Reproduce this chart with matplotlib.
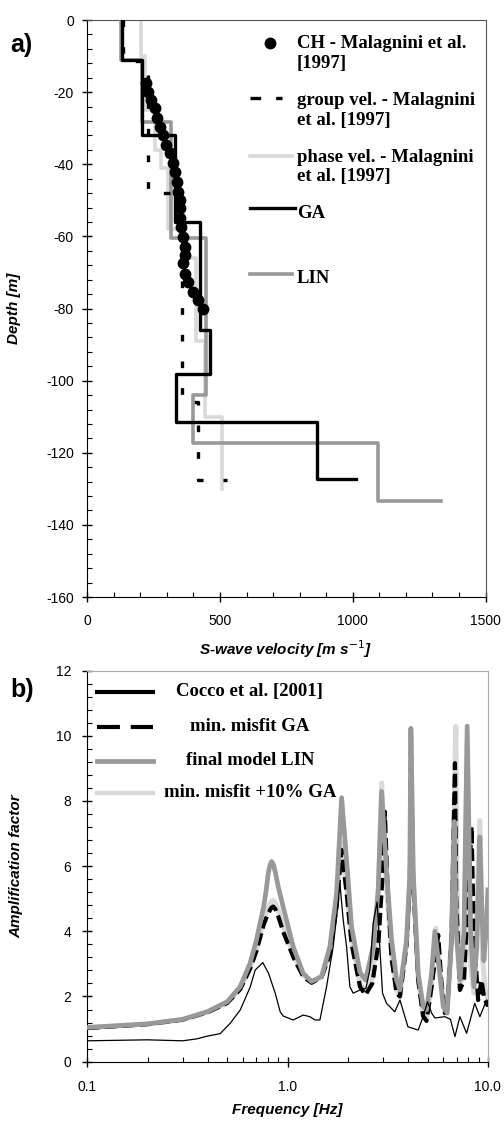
import matplotlib
matplotlib.use("Agg")
import matplotlib.pyplot as plt
import numpy as np
from matplotlib.ticker import MultipleLocator

plt.rcParams["axes.unicode_minus"] = False
plt.rcParams["font.family"] = ["Liberation Sans", "DejaVu Sans"]

# ---- panel a): S-wave velocity profiles -------------------------------
ch_depth = [17.4, 19.9, 22.2, 24.5, 27.3, 29.6, 32.0, 34.7, 37.0, 39.7, 42.1,
            44.8, 47.6, 49.9, 52.2, 55.0, 57.3, 60.1, 62.9, 65.2, 67.5, 70.3,
            72.6, 75.4, 77.7, 80.0]
ch_vel = [223, 230, 242, 255, 264, 274, 285, 296, 311, 324, 330,
          337, 343, 349, 349, 349, 355, 361, 368, 368, 361, 368,
          380, 399, 418, 437]

# layer boundaries (m) and layer velocities (m/s); last value = half-space
group_edges = [0, 11.5, 48, 106, 127.5]
group_vel = [136, 230, 358, 418, 525]

phase_edges = [0, 10, 25, 36, 41, 58, 66, 89, 110, 130]
phase_vel = [202, 217, 255, 278, 305, 360, 410, 443, 506]

ga_edges = [0, 11.1, 31.9, 55.9, 86, 98.2, 111.4, 127.4]
ga_vel = [130, 205, 330, 424, 462, 336, 866, 1012]

lin_edges = [0, 11.1, 28.2, 60.5, 104, 117.2, 133.4]
lin_vel = [126, 205, 314, 447, 400, 1093, 1332]

# ---- panel b): amplification functions --------------------------------
cocco_f = [0.1, 0.2, 0.3, 0.353, 0.395, 0.461, 0.518, 0.581, 0.652, 0.689,
           0.753, 0.804, 0.868, 0.919, 0.951, 1.067, 1.197, 1.293, 1.369,
           1.451, 1.566, 1.69, 1.789, 1.825, 1.896, 1.971, 2.047, 2.127,
           2.297, 2.46, 2.576, 2.676, 2.80, 2.98, 3.12, 3.43, 3.64, 3.99,
           4.49, 4.75, 5.0, 5.24, 5.44, 6.10, 6.5, 6.85, 7.25, 7.83, 8.6,
           9.12, 9.85, 10.0]
cocco_amp = [0.64, 0.67, 0.64, 0.70, 0.78, 0.86, 1.18, 1.59, 2.30, 2.81,
             3.04, 2.71, 2.10, 1.53, 1.40, 1.28, 1.43, 1.38, 1.28,
             1.28, 2.30, 3.53, 4.86, 5.48, 4.35, 3.53, 2.30, 2.10,
             2.20, 2.25, 2.81, 4.25, 4.90, 2.10, 1.79, 1.53, 1.89, 1.07,
             0.97, 1.38, 1.84, 1.49, 1.34, 1.38, 1.30, 0.77, 1.38, 0.87, 1.79,
             1.38, 1.89, 1.70]

ga_f = [0.1, 0.2, 0.3, 0.4, 0.5, 0.58, 0.65, 0.70, 0.76, 0.80, 0.83, 0.848,
        0.87, 0.9, 0.95, 1.07, 1.2, 1.32, 1.48, 1.63, 1.76, 1.86, 1.97, 2.09,
        2.3, 2.45, 2.65, 2.84, 3.0, 3.06, 3.15, 3.3, 3.5, 3.64, 3.93, 4.08,
        4.13, 4.24, 4.49, 4.75, 4.94, 5.24, 5.65, 5.85, 6.1, 6.26, 6.59, 6.85,
        6.95, 7.25, 7.6, 8.29, 8.5, 8.94, 9.3, 9.55, 10.0]
ga_amp = [1.03, 1.15, 1.29, 1.52, 1.80, 2.22, 2.85, 3.40, 4.20, 4.55, 4.72, 4.76,
          4.68, 4.45, 4.00, 3.20, 2.60, 2.42, 2.60, 3.30, 4.80, 6.50, 5.20, 3.60,
          2.30, 2.05, 2.40, 3.60, 6.00, 7.67, 5.50, 3.20, 2.10, 2.00, 3.60, 5.50,
          9.50, 5.50, 2.50, 1.40, 1.25, 2.30, 3.89, 2.50, 1.49, 1.60, 3.80, 9.16,
          5.00, 2.20, 2.50, 7.21, 4.00, 1.89, 2.50, 2.00, 1.70]

ga10_f = [0.1, 0.2, 0.3, 0.4, 0.5, 0.58, 0.65, 0.70, 0.76, 0.80, 0.83, 0.848,
          0.87, 0.9, 0.95, 1.07, 1.2, 1.32, 1.48, 1.63, 1.76, 1.86, 1.97, 2.09,
          2.3, 2.45, 2.65, 2.80, 2.95, 3.1, 3.3, 3.5, 3.64, 3.93, 4.08, 4.13,
          4.24, 4.49, 4.75, 4.94, 5.24, 5.5, 5.75, 6.1, 6.26, 6.59, 6.92, 7.0,
          7.25, 7.6, 7.88, 8.2, 8.51, 9.12, 9.4, 9.7, 10.0]
ga10_amp = [1.04, 1.15, 1.29, 1.52, 1.81, 2.24, 2.88, 3.45, 4.35, 4.75, 4.92, 4.95,
            4.88, 4.65, 4.15, 3.30, 2.65, 2.45, 2.62, 3.40, 4.95, 6.70, 5.40, 3.70,
            2.40, 2.15, 2.55, 4.00, 8.55, 5.60, 3.40, 2.20, 2.05, 3.70, 5.60, 10.0,
            5.60, 2.60, 1.50, 1.35, 2.40, 4.10, 2.60, 1.55, 1.65, 3.90, 10.28, 5.40,
            2.40, 2.60, 9.80, 3.00, 2.10, 7.40, 3.20, 2.20, 1.90]

lin_f = [0.1, 0.2, 0.3, 0.4, 0.5, 0.58, 0.65, 0.70, 0.76, 0.78, 0.80, 0.815,
         0.832, 0.85, 0.87, 0.9, 0.95, 1.067, 1.197, 1.318, 1.479, 1.627, 1.758,
         1.862, 1.971, 2.087, 2.297, 2.45, 2.676, 2.835, 2.948, 3.123, 3.306,
         3.502, 3.638, 3.929, 4.081, 4.128, 4.239, 4.489, 4.754, 4.944, 5.236,
         5.438, 5.76, 5.984, 6.263, 6.589, 6.79, 6.95, 7.249, 7.6, 7.883, 8.2,
         8.514, 8.8, 9.121, 9.35, 9.55, 9.85, 10.0]
lin_amp = [1.05, 1.16, 1.30, 1.54, 1.84, 2.30, 3.02, 3.74, 4.76, 5.20, 5.75, 6.00,
           6.14, 6.05, 5.80, 5.35, 4.76, 3.53, 2.71, 2.46, 2.61, 3.53, 5.17,
           8.10, 6.19, 4.14, 2.75, 2.50, 3.53, 5.27, 8.29, 5.78, 3.74,
           2.51, 2.20, 3.74, 5.78, 10.23, 5.78, 2.71, 1.69, 1.59, 2.71,
           4.00, 2.71, 1.69, 1.49, 3.74, 7.37, 4.00, 2.50, 4.00, 10.30, 4.00,
           2.30, 3.50, 6.90, 4.50, 3.10, 4.20, 5.27]

DARK = "#999999"
LIGHT = "#d9d9d9"
serif = {"family": ["Liberation Serif", "DejaVu Serif"], "weight": "bold",
         "size": 13.5}
label_font = {"weight": "bold", "style": "italic", "size": 11}


def profile(edges, vel):
    """Step profile: velocity vs. (negative) depth."""
    e = np.asarray(edges, float)
    v = np.asarray(vel, float)
    n = len(e) - 1
    x = np.repeat(v[:n], 2)
    y = np.column_stack([e[:-1], e[1:]]).ravel()
    if len(v) > n:  # half-space drawn as a horizontal segment
        x = np.append(x, v[n])
        y = np.append(y, e[-1])
    return x, -y


def style_axes(ax, edge_color):
    for side in ("top", "right"):
        ax.spines[side].set_color(edge_color)
    ax.tick_params(which="major", direction="inout", length=7, width=1,
                   labelsize=10, top=False, right=False)
    ax.tick_params(which="minor", direction="in", length=3.5, width=0.8,
                   top=False, right=False)


fig = plt.figure(figsize=(5.04, 11.25), dpi=100)

# ======================= panel a ========================================
ax1 = fig.add_axes([0.173, 0.4693, 0.7905, 0.5129])
x, y = profile(phase_edges, phase_vel)
ax1.plot(x, y, color=LIGHT, lw=2.6, zorder=2)
x, y = profile(lin_edges, lin_vel)
ax1.plot(x, y, color=DARK, lw=2.6, zorder=3)
x, y = profile(ga_edges, ga_vel)
ax1.plot(x, y, color="black", lw=2.4, zorder=4)
x, y = profile(group_edges, group_vel)
ax1.plot(x, y, color="black", lw=2.4, dashes=(2, 6), zorder=5)
ax1.plot(ch_vel, -np.asarray(ch_depth), "o", color="black", ms=7.5, zorder=6)

ax1.set_xlim(0, 1500)
ax1.set_ylim(-160, 0)
ax1.xaxis.set_major_locator(MultipleLocator(500))
ax1.xaxis.set_minor_locator(MultipleLocator(100))
ax1.yaxis.set_major_locator(MultipleLocator(20))
ax1.yaxis.set_minor_locator(MultipleLocator(4))
style_axes(ax1, "#555555")
ax1.tick_params(axis="x", which="major", pad=9)
ax1.tick_params(axis="y", which="major", pad=6)
ax1.set_xlabel("S-wave velocity [m s$^{-1}$]", fontdict=label_font)
ax1.xaxis.set_label_coords(0.498, -0.071)
ax1.set_ylabel("Depth [m]", fontdict=label_font)
ax1.yaxis.set_label_coords(-0.165, 0.5)

# hand-placed legend (axes fraction)
tr = ax1.transAxes
ax1.plot([0.458], [0.960], "o", color="black", ms=7.5, transform=tr,
         clip_on=False)
ax1.plot([0.408, 0.489], [0.864, 0.864], color="black", lw=2.4,
         dashes=(3.2, 4.5), transform=tr)
ax1.plot([0.408, 0.514], [0.764, 0.764], color=LIGHT, lw=2.6, transform=tr)
ax1.plot([0.408, 0.521], [0.674, 0.674], color="black", lw=2.4, transform=tr)
ax1.plot([0.408, 0.514], [0.560, 0.560], color=DARK, lw=2.6, transform=tr)
legend_a = [("CH - Malagnini et al.\n[1997]", 0.974),
            ("group vel. - Malagnini\net al. [1997]", 0.875),
            ("phase vel. - Malagnini\net al. [1997]", 0.777),
            ("GA", 0.680),
            ("LIN", 0.567)]
for txt, yy in legend_a:
    ax1.text(0.526, yy, txt, transform=tr, va="top", ha="left",
             linespacing=1.2, fontdict=serif)

fig.text(10 / 504, 1 - 45 / 1125, "a)", fontsize=18, fontweight="bold",
         va="center", ha="left")

# ======================= panel b ========================================
ax2 = fig.add_axes([0.173, 0.0563, 0.795, 0.3476])
ax2.plot(ga10_f, ga10_amp, color=LIGHT, lw=3.6, zorder=2)
ax2.plot(ga_f, ga_amp, color="black", lw=3.0, dashes=(3, 1.2), zorder=3)
ax2.plot(lin_f, lin_amp, color=DARK, lw=3.4, zorder=4)
ax2.plot(cocco_f, cocco_amp, color="black", lw=0.9, zorder=5)

ax2.set_xscale("log")
ax2.set_xlim(0.1, 10)
ax2.set_ylim(0, 12)
ax2.set_xticks([0.1, 1, 10], ["0.1", "1.0", "10.0"])
ax2.yaxis.set_major_locator(MultipleLocator(2))
ax2.yaxis.set_minor_locator(MultipleLocator(0.4))
style_axes(ax2, "#aaaaaa")
ax2.tick_params(axis="x", which="major", pad=10)
ax2.tick_params(axis="y", which="major", pad=8)
ax2.set_xlabel("Frequency [Hz]", fontdict=label_font)
ax2.xaxis.set_label_coords(0.5, -0.106)
ax2.set_ylabel("Amplification factor", fontdict=label_font)
ax2.yaxis.set_label_coords(-0.16, 0.5)

tr2 = ax2.transAxes
handles_b = [dict(color="black", lw=3.0),
             dict(color="black", lw=3.0, dashes=(5.5, 2.6)),
             dict(color=DARK, lw=3.4),
             dict(color=LIGHT, lw=3.0)]
labels_b = ["Cocco et al. [2001]", "min. misfit GA", "final model LIN",
            "min. misfit +10% GA"]
rows_b = [0.946, 0.857, 0.770, 0.688]
for kw, lab, yy in zip(handles_b, labels_b, rows_b):
    ax2.plot([0.0235, 0.164], [yy, yy], transform=tr2, zorder=6, **kw)
    ax2.text(0.406, yy, lab, transform=tr2, ha="center", va="center",
             fontdict=serif, zorder=7)

fig.text(10 / 504, 1 - 690 / 1125, "b)", fontsize=18, fontweight="bold",
         va="center", ha="left")

fig.savefig("out.png", dpi=100)
